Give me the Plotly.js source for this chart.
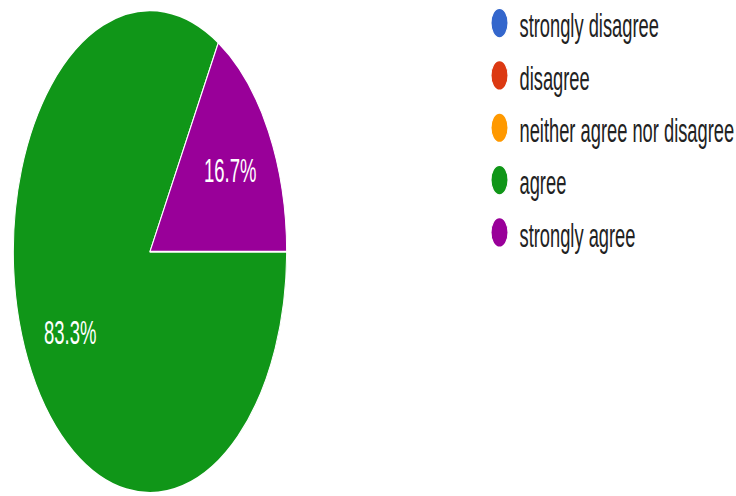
<!DOCTYPE html>
<html>
<head>
<meta charset="utf-8">
<script src="https://cdn.plot.ly/plotly-3.0.1.min.js"></script>
<style>
  html, body { margin: 0; padding: 0; background: #ffffff; overflow: hidden; width: 736px; height: 496px; }
  #chart { width: 736px; height: 281px; transform: scaleY(1.765); transform-origin: 0 0; }
  .legendpie { d: path("M8.5,0A8.5,8.5 0 1 1 -8.5,0A8.5,8.5 0 1 1 8.5,0Z"); }
</style>
</head>
<body>
<div id="chart"></div>
<script>
// Responses per answer option
const categories = ["strongly disagree", "disagree", "neither agree nor disagree", "agree", "strongly agree"];
const responses = [0, 0, 0, 5, 1];
const sliceColors = ["#3366cc", "#dc3912", "#ff9900", "#109618", "#990099"];

const W = 736, H = 281;
const domX = [0.01807, 0.3895];
const domY = [0.0064, 0.979];
const startRotation = 90; // first slice starts at 3 o'clock, clockwise

const legendLabels = categories.map(c => '<span style="font-size:18.3px">' + c + '</span>');

const trace = {
  type: "pie",
  labels: legendLabels,
  values: responses,
  sort: false,
  direction: "clockwise",
  rotation: startRotation,
  marker: { colors: sliceColors, line: { color: "#ffffff", width: 1 } },
  textinfo: "none",
  hoverinfo: "none",
  domain: { x: domX, y: domY }
};

// Percentage labels placed on each slice's mid-angle
const total = responses.reduce((a, b) => a + b, 0);
const cxF = (domX[0] + domX[1]) / 2;
const cyF = (domY[0] + domY[1]) / 2;
const R = Math.min((domX[1] - domX[0]) * W, (domY[1] - domY[0]) * H) / 2;
const labelR = 0.675 * R;
const annotations = [];
let cum = 0;
responses.forEach((v, i) => {
  if (v > 0) {
    const mid = (startRotation + 360 * (cum + v / 2) / total) * Math.PI / 180;
    annotations.push({
      xref: "paper", yref: "paper",
      x: cxF + labelR * Math.sin(mid) / W,
      y: cyF + labelR * Math.cos(mid) / H,
      text: (100 * v / total).toFixed(1) + "%",
      showarrow: false,
      xanchor: "center", yanchor: "middle",
      font: { family: "Arial, 'Liberation Sans', sans-serif", size: 18.5, color: "#ffffff" }
    });
  }
  cum += v;
});

const layout = {
  width: W,
  height: H,
  margin: { l: 0, r: 0, t: 0, b: 0, pad: 0, autoexpand: false },
  paper_bgcolor: "#ffffff",
  showlegend: true,
  annotations: annotations,
  legend: {
    x: 0.6515, xanchor: "left",
    y: 1.024, yanchor: "top",
    maxheight: 400,
    font: { family: "Arial, 'Liberation Sans', sans-serif", size: 20.5, color: "#222222" },
    bgcolor: "rgba(0,0,0,0)",
    traceorder: "normal"
  }
};

Plotly.newPlot("chart", [trace], layout, { displayModeBar: false, staticPlot: true });
</script>
</body>
</html>
